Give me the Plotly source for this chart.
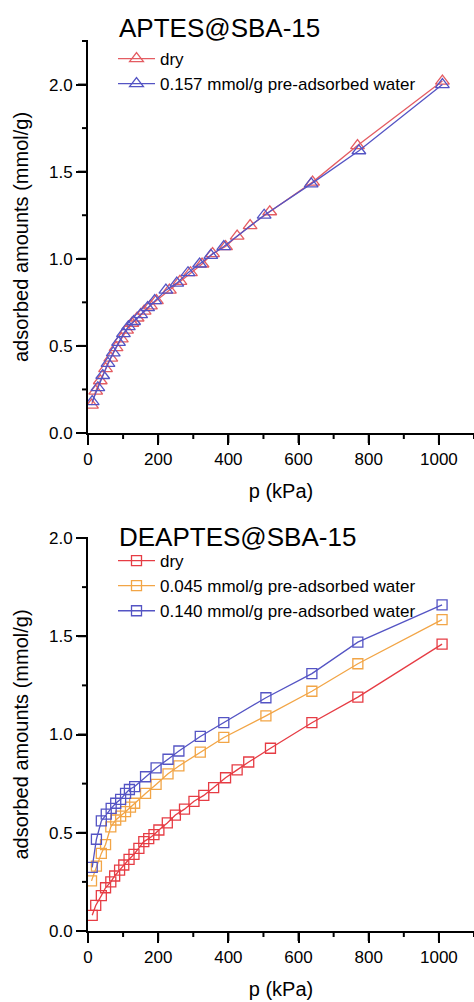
import plotly.graph_objects as go

# ---------- data: APTES@SBA-15 ----------
aptes_dry_p = [10, 22, 35, 50, 65, 80, 95, 110, 125, 140, 160, 178, 195, 232, 262, 292, 325, 355, 392, 425, 462, 518, 640, 768, 1010]
aptes_dry_q = [0.16, 0.24, 0.30, 0.37, 0.43, 0.49, 0.54, 0.59, 0.63, 0.66, 0.70, 0.73, 0.76, 0.82, 0.87, 0.92, 0.97, 1.03, 1.07, 1.13, 1.19, 1.27, 1.44, 1.65, 2.02]
aptes_w157_p = [12, 28, 42, 57, 72, 87, 101, 115, 130, 150, 170, 190, 222, 253, 285, 318, 350, 387, 502, 636, 772, 1010]
aptes_w157_q = [0.18, 0.26, 0.33, 0.40, 0.46, 0.52, 0.57, 0.61, 0.64, 0.68, 0.72, 0.76, 0.82, 0.86, 0.92, 0.97, 1.02, 1.07, 1.25, 1.43, 1.62, 2.00]

# ---------- data: DEAPTES@SBA-15 ----------
deaptes_dry_p = [12, 22, 38, 50, 65, 76, 90, 102, 117, 131, 145, 159, 173, 188, 202, 226, 249, 275, 302, 330, 358, 392, 425, 458, 520, 638, 769, 1009]
deaptes_dry_q = [0.08, 0.13, 0.18, 0.22, 0.25, 0.28, 0.31, 0.336, 0.365, 0.39, 0.42, 0.455, 0.47, 0.49, 0.514, 0.55, 0.59, 0.62, 0.66, 0.69, 0.73, 0.78, 0.82, 0.86, 0.93, 1.06, 1.19, 1.46]
deaptes_w045_p = [10, 24, 38, 50, 65, 79, 93, 107, 121, 133, 164, 194, 228, 259, 320, 387, 507, 638, 769, 1009]
deaptes_w045_q = [0.255, 0.33, 0.395, 0.44, 0.53, 0.565, 0.585, 0.607, 0.63, 0.65, 0.70, 0.746, 0.80, 0.84, 0.91, 0.985, 1.095, 1.22, 1.36, 1.585]
deaptes_w140_p = [12, 24, 38, 52, 66, 79, 93, 107, 118, 133, 164, 194, 228, 259, 320, 387, 507, 638, 769, 1009]
deaptes_w140_q = [0.324, 0.467, 0.56, 0.595, 0.624, 0.65, 0.67, 0.70, 0.72, 0.735, 0.785, 0.83, 0.874, 0.916, 0.99, 1.06, 1.187, 1.31, 1.47, 1.66]

labels_top = ["dry", "0.157 mmol/g pre-adsorbed water"]
labels_bot = ["dry", "0.045 mmol/g pre-adsorbed water", "0.140 mmol/g pre-adsorbed water"]
title_top = "APTES@SBA-15"
title_bot = "DEAPTES@SBA-15"
x_title = "p (kPa)"
y_title = "adsorbed amounts (mmol/g)"

# axis ranges and tick positions
X_RANGE = [0, 1100]
Y_RANGE_TOP = [0, 2.25]
Y_RANGE_BOT = [0, 2.0]
x_major = [0, 200, 400, 600, 800, 1000]
x_minor = [100, 300, 500, 700, 900, 1100]
y_major_top = [0.0, 0.5, 1.0, 1.5, 2.0]
y_minor_top = [0.25, 0.75, 1.25, 1.75, 2.25]
y_major_bot = [0.0, 0.5, 1.0, 1.5, 2.0]
y_minor_bot = [0.25, 0.75, 1.25, 1.75]

RED = "#e45c62"
RED2 = "#e63c44"
BLUE = "#5454c4"
ORANGE = "#f2a546"
FONT = "Liberation Sans, Arial, sans-serif"

fig = go.Figure()

def add(p, q, name, color, symbol, size, xa, ya, leg):
    fig.add_trace(go.Scatter(
        x=p, y=q, name=name, mode="lines+markers",
        line=dict(color=color, width=1.3),
        marker=dict(symbol=symbol, size=size, color=color,
                    line=dict(color=color, width=1.3)),
        xaxis=xa, yaxis=ya, legend=leg))

add(aptes_dry_p, aptes_dry_q, labels_top[0], RED, "triangle-up-open", 12, "x", "y", "legend")
add(aptes_w157_p, aptes_w157_q, labels_top[1], BLUE, "triangle-up-open", 12, "x", "y", "legend")
add(deaptes_dry_p, deaptes_dry_q, labels_bot[0], RED2, "square-open", 10, "x2", "y2", "legend2")
add(deaptes_w045_p, deaptes_w045_q, labels_bot[1], ORANGE, "square-open", 10, "x2", "y2", "legend2")
add(deaptes_w140_p, deaptes_w140_q, labels_bot[2], BLUE, "square-open", 10, "x2", "y2", "legend2")

TOP_DOM = [(931 - 433) / 890, 1.0]
BOT_DOM = [0.0, (931 - 538) / 890]

# tick marks as unclipped paper shapes, positioned via the axis ranges/domains
MAJ, MIN = 10, 6
shapes = []
def to_paper(v, rng, dom):
    return dom[0] + (v - rng[0]) / (rng[1] - rng[0]) * (dom[1] - dom[0])
def xticks(vals, dom_y, length):
    for v in vals:
        xp = to_paper(v, X_RANGE, [0, 1])
        shapes.append(dict(type="line", xref="paper", yref="paper", x0=xp, x1=xp,
                           ysizemode="pixel", yanchor=dom_y[0], y0=0, y1=-length,
                           line=dict(color="black", width=2)))
def yticks(vals, rng, dom, length):
    for v in vals:
        yp = to_paper(v, rng, dom)
        shapes.append(dict(type="line", xref="paper", yref="paper", y0=yp, y1=yp,
                           xsizemode="pixel", xanchor=0, x0=0, x1=-length,
                           line=dict(color="black", width=2)))
xticks(x_major, TOP_DOM, MAJ)
xticks(x_minor, TOP_DOM, MIN)
xticks(x_major, BOT_DOM, MAJ)
xticks(x_minor, BOT_DOM, MIN)
yticks(y_major_top, Y_RANGE_TOP, TOP_DOM, MAJ)
yticks(y_minor_top, Y_RANGE_TOP, TOP_DOM, MIN)
yticks(y_major_bot, Y_RANGE_BOT, BOT_DOM, MAJ)
yticks(y_minor_bot, Y_RANGE_BOT, BOT_DOM, MIN)

fig.update_layout(
    width=474, height=1002,
    margin=dict(l=88, r=0, t=41, b=71),
    paper_bgcolor="white", plot_bgcolor="white",
    font=dict(family=FONT, color="black"),
    xaxis=dict(anchor="y", domain=[0, 1]),
    yaxis=dict(anchor="x", domain=TOP_DOM, range=Y_RANGE_TOP),
    xaxis2=dict(anchor="y2", domain=[0, 1]),
    yaxis2=dict(anchor="x2", domain=BOT_DOM, range=Y_RANGE_BOT),
    legend=dict(x=(113 - 88) / 386, y=(931 - 41) / 890, xanchor="left", yanchor="top",
                bgcolor="rgba(0,0,0,0)", borderwidth=0,
                font=dict(family=FONT, size=17, color="black"), tracegroupgap=4,
                itemwidth=37),
    legend2=dict(x=(113 - 88) / 386, y=(931 - 543) / 890, xanchor="left", yanchor="top",
                 bgcolor="rgba(0,0,0,0)", borderwidth=0,
                 font=dict(family=FONT, size=17, color="black"), tracegroupgap=0,
                 itemwidth=37),
    showlegend=True,
    shapes=shapes,
    annotations=[
        dict(text=title_top, xref="paper", yref="paper", x=(117 - 88) / 386, y=(931 - 28) / 890,
             xanchor="left", yanchor="middle", showarrow=False,
             font=dict(family=FONT, size=26, color="black")),
        dict(text=title_bot, xref="paper", yref="paper", x=(117 - 88) / 386, y=(931 - 537) / 890,
             xanchor="left", yanchor="middle", showarrow=False,
             font=dict(family=FONT, size=26, color="black")),
    ],
)

common = dict(showline=True, linecolor="black", linewidth=2, showgrid=False, zeroline=False,
              ticks="outside", ticklen=MAJ, tickwidth=2, tickcolor="black", automargin=False,
              tickfont=dict(family=FONT, size=17, color="black"))
fig.update_xaxes(**common, range=X_RANGE, tickvals=x_major,
                 ticktext=[str(v) for v in x_major],
                 title=dict(text=x_title, font=dict(family=FONT, size=20, color="black"), standoff=16))
fig.update_yaxes(**common, tickvals=y_major_top, ticktext=[f"{v:.1f}" for v in y_major_top],
                 title=dict(text=y_title, font=dict(family=FONT, size=20, color="black"), standoff=15))

fig.write_html("out.html", config={"displayModeBar": False},
               post_script="document.body.style.margin='0';document.body.style.padding='0';")
